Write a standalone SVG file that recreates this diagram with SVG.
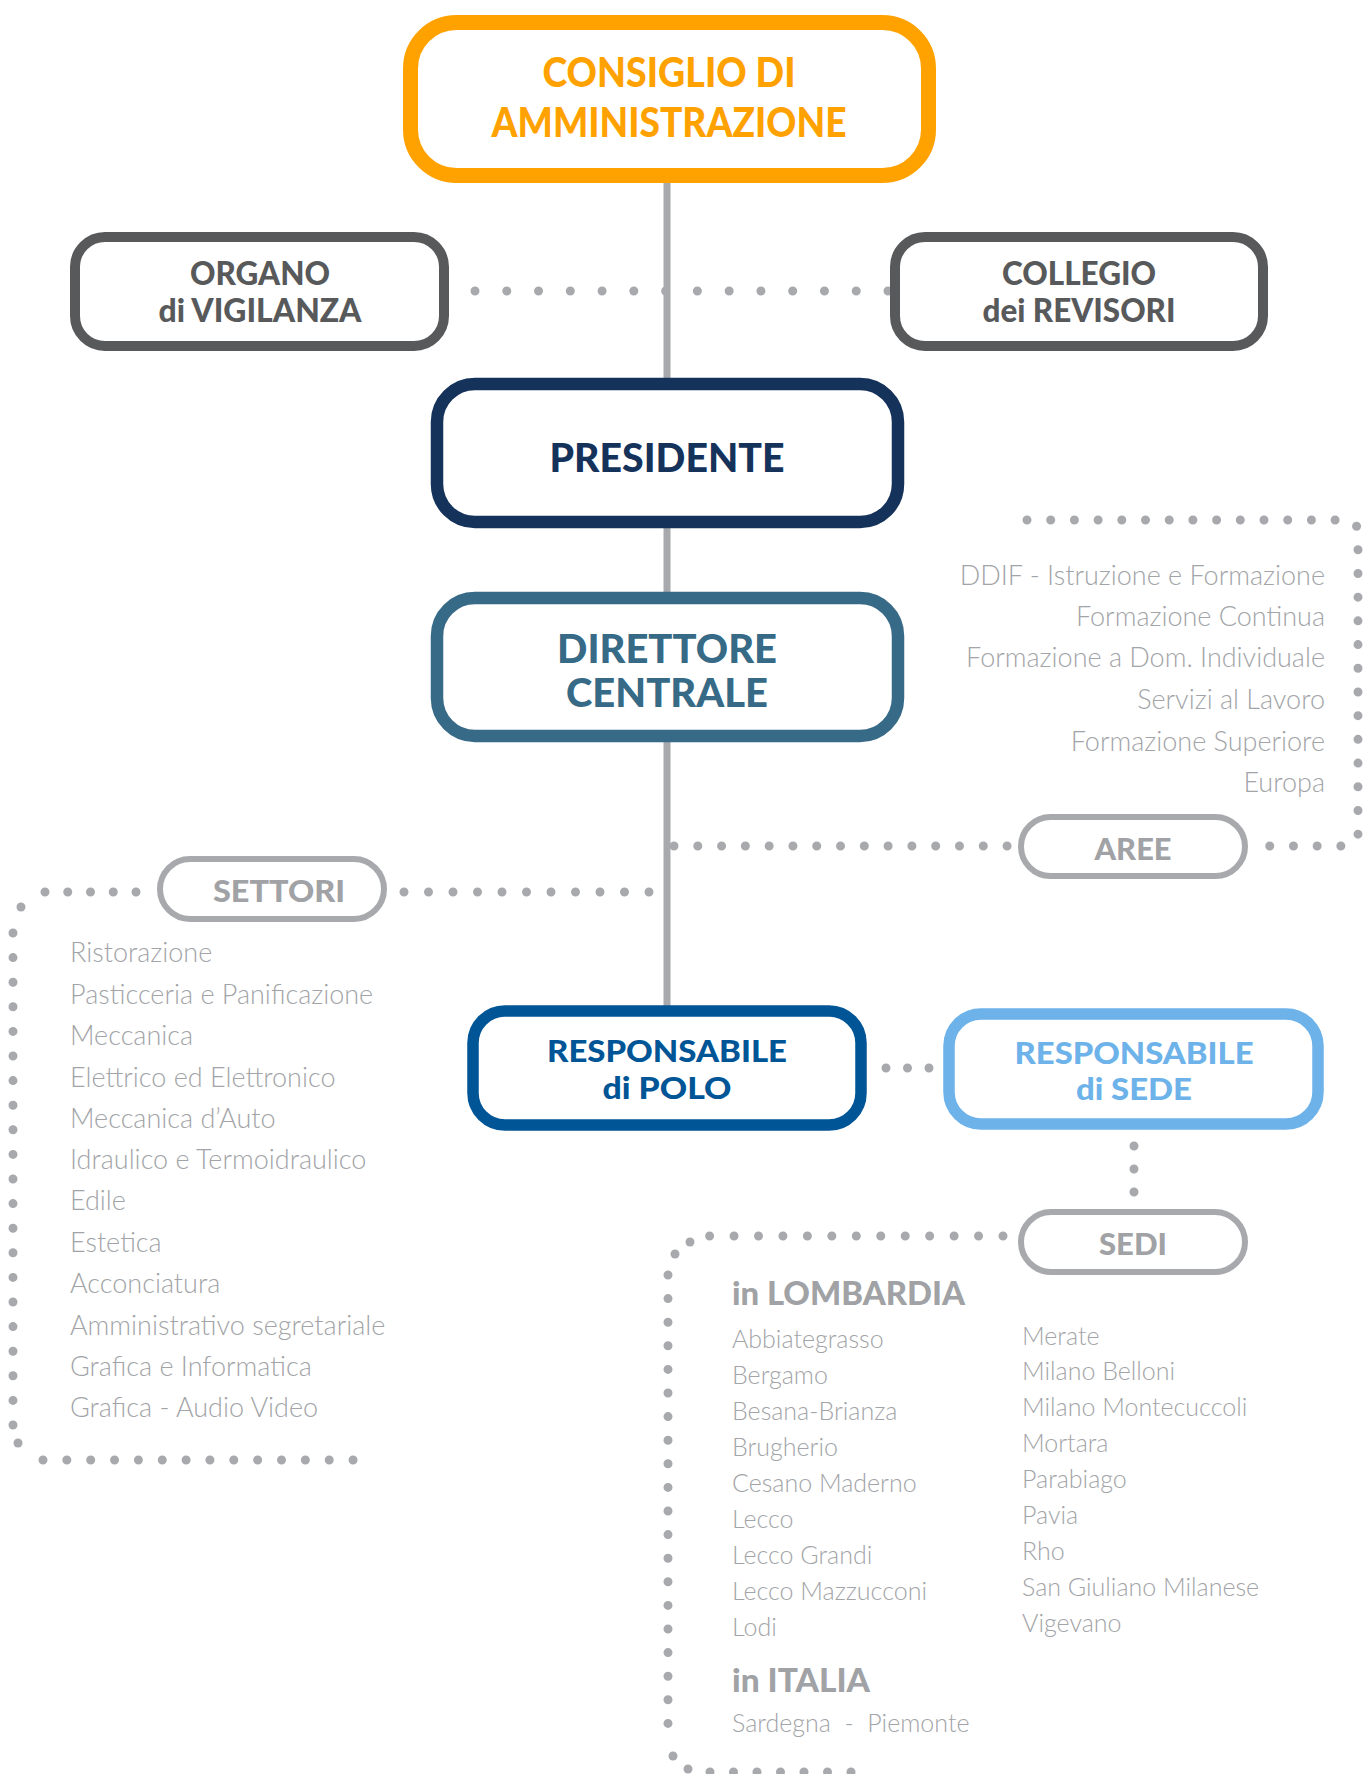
<svg xmlns="http://www.w3.org/2000/svg" width="1364" height="1774" viewBox="0 0 1364 1774">
<style>
.box{fill:#fff}
.h{font-family:Lato,"Open Sans","DejaVu Sans",sans-serif;font-weight:900;text-anchor:middle}
.pill{fill:#fff;stroke:#A7A9AC;stroke-width:6}
.pt{fill:#A0A2A5;font-size:31px}
.li{font-family:Lato,"Open Sans","DejaVu Sans",sans-serif;font-weight:300;fill:#A2A4A7}
.dot{fill:none;stroke:#A7A9AC;stroke-width:9;stroke-linecap:round}
.dc{fill:#A7A9AC}
</style>
<rect width="1364" height="1774" fill="#fff"/>
<g id="connectors">
<line x1="667" y1="180" x2="667" y2="1008" stroke="#A7A9AC" stroke-width="7"/>
<path class="dot" d="M475 291 H888.5" stroke-dasharray="0 31.77"/>
<path class="dot" d="M1027 520 H1346 A12 12 0 0 1 1358 532 V834 A12 12 0 0 1 1346 846 H1263" stroke-dasharray="0 23.7"/>
<path class="dot" d="M674 846 H1007.5" stroke-dasharray="0 23.79"/>
<path class="dot" d="M649 892 H403.5" stroke-dasharray="0 24.5"/>
<path class="dot" d="M136 892 H44.5" stroke-dasharray="0 22.75"/>
<circle class="dc" cx="21" cy="907" r="4.5"/>
<path class="dot" d="M13 933 V1425.5" stroke-dasharray="0 24.6"/>
<circle class="dc" cx="18" cy="1443" r="4.5"/>
<path class="dot" d="M43 1460 H353.5" stroke-dasharray="0 23.85"/>
<path class="dot" d="M886 1068 H930" stroke-dasharray="0 21.5"/>
<path class="dot" d="M1134 1146 V1193" stroke-dasharray="0 23"/>
<path class="dot" d="M1003 1236 H709.5" stroke-dasharray="0 24.45"/>
<circle class="dc" cx="690" cy="1242" r="4.5"/>
<circle class="dc" cx="675" cy="1254" r="4.5"/>
<path class="dot" d="M668 1275 V1737.5" stroke-dasharray="0 23.6"/>
<circle class="dc" cx="673" cy="1756" r="4.5"/>
<circle class="dc" cx="688" cy="1769" r="4.5"/>
<path class="dot" d="M710 1772 H870" stroke-dasharray="0 23.5"/>
</g>
<g id="consiglio">
<rect class="box" x="410.5" y="22.5" width="518" height="153" rx="46" stroke="#FFA200" stroke-width="15"/>
<text class="h" x="669" y="87" font-size="41" fill="#FFA200" textLength="253" lengthAdjust="spacingAndGlyphs">CONSIGLIO DI</text>
<text class="h" x="669" y="137" font-size="41" fill="#FFA200" textLength="355" lengthAdjust="spacingAndGlyphs">AMMINISTRAZIONE</text>
</g>
<g id="organo">
<rect class="box" x="75" y="237" width="369" height="109" rx="30" stroke="#58595B" stroke-width="10"/>
<text class="h" x="260" y="285" font-size="32" fill="#58595B" textLength="140" lengthAdjust="spacingAndGlyphs">ORGANO</text>
<text class="h" x="260" y="322" font-size="32" fill="#58595B" textLength="203" lengthAdjust="spacingAndGlyphs">di VIGILANZA</text>
</g>
<g id="collegio">
<rect class="box" x="895" y="237" width="368" height="109" rx="30" stroke="#58595B" stroke-width="10"/>
<text class="h" x="1079" y="285" font-size="32" fill="#58595B" textLength="154" lengthAdjust="spacingAndGlyphs">COLLEGIO</text>
<text class="h" x="1079" y="322" font-size="32" fill="#58595B" textLength="193" lengthAdjust="spacingAndGlyphs">dei REVISORI</text>
</g>
<g id="presidente">
<rect class="box" x="437" y="384" width="461" height="138" rx="38" stroke="#15325A" stroke-width="12.5"/>
<text class="h" x="667" y="472" font-size="40" fill="#15325A" textLength="235" lengthAdjust="spacingAndGlyphs">PRESIDENTE</text>
</g>
<g id="direttore">
<rect class="box" x="437" y="598" width="461" height="138" rx="38" stroke="#376A86" stroke-width="12.5"/>
<text class="h" x="667" y="663" font-size="40" fill="#376A86" textLength="220" lengthAdjust="spacingAndGlyphs">DIRETTORE</text>
<text class="h" x="667" y="707" font-size="40" fill="#376A86" textLength="202" lengthAdjust="spacingAndGlyphs">CENTRALE</text>
</g>
<g id="aree">
<rect class="pill" x="1021" y="817" width="224" height="59" rx="29.5"/>
<text class="h pt" x="1133" y="860" textLength="77" lengthAdjust="spacingAndGlyphs">AREE</text>
<g class="li" font-size="27" text-anchor="end">
<text x="1325" y="585">DDIF - Istruzione e Formazione</text>
<text x="1325" y="626">Formazione Continua</text>
<text x="1325" y="667">Formazione a Dom. Individuale</text>
<text x="1325" y="709">Servizi al Lavoro</text>
<text x="1325" y="751">Formazione Superiore</text>
<text x="1325" y="792">Europa</text>
</g>
</g>
<g id="settori">
<rect class="pill" x="160" y="859" width="224" height="60" rx="30"/>
<text class="h pt" x="279" y="902" textLength="132" lengthAdjust="spacingAndGlyphs">SETTORI</text>
<g class="li" font-size="27">
<text x="70" y="962">Ristorazione</text>
<text x="70" y="1004">Pasticceria e Panificazione</text>
<text x="70" y="1045">Meccanica</text>
<text x="70" y="1087">Elettrico ed Elettronico</text>
<text x="70" y="1128">Meccanica d’Auto</text>
<text x="70" y="1169">Idraulico e Termoidraulico</text>
<text x="70" y="1210">Edile</text>
<text x="70" y="1252">Estetica</text>
<text x="70" y="1293">Acconciatura</text>
<text x="70" y="1335">Amministrativo segretariale</text>
<text x="70" y="1376">Grafica e Informatica</text>
<text x="70" y="1417">Grafica - Audio Video</text>
</g>
</g>
<g id="polo">
<rect class="box" x="473" y="1011" width="388" height="114" rx="32" stroke="#005596" stroke-width="11.5"/>
<text class="h" x="667" y="1062" font-size="31" fill="#005596" textLength="240" lengthAdjust="spacingAndGlyphs">RESPONSABILE</text>
<text class="h" x="667" y="1099" font-size="31" fill="#005596" textLength="129" lengthAdjust="spacingAndGlyphs">di POLO</text>
</g>
<g id="sede">
<rect class="box" x="949" y="1014" width="369" height="110" rx="32" stroke="#6DB3EA" stroke-width="11.5"/>
<text class="h" x="1134" y="1064" font-size="31" fill="#6DB3EA" textLength="239" lengthAdjust="spacingAndGlyphs">RESPONSABILE</text>
<text class="h" x="1134" y="1100" font-size="31" fill="#6DB3EA" textLength="116" lengthAdjust="spacingAndGlyphs">di SEDE</text>
</g>
<g id="sedi">
<rect class="pill" x="1021" y="1212" width="224" height="60" rx="30"/>
<text class="h pt" x="1133" y="1255" textLength="68" lengthAdjust="spacingAndGlyphs">SEDI</text>
<text class="h" x="732" y="1305" font-size="32" fill="#A0A2A5" style="text-anchor:start" textLength="233" lengthAdjust="spacingAndGlyphs">in LOMBARDIA</text>
<g class="li" font-size="25">
<text x="732" y="1348">Abbiategrasso</text>
<text x="732" y="1384">Bergamo</text>
<text x="732" y="1420">Besana-Brianza</text>
<text x="732" y="1456">Brugherio</text>
<text x="732" y="1492">Cesano Maderno</text>
<text x="732" y="1528">Lecco</text>
<text x="732" y="1564">Lecco Grandi</text>
<text x="732" y="1600">Lecco Mazzucconi</text>
<text x="732" y="1636">Lodi</text>
<text x="1022" y="1345">Merate</text>
<text x="1022" y="1380">Milano Belloni</text>
<text x="1022" y="1416">Milano Montecuccoli</text>
<text x="1022" y="1452">Mortara</text>
<text x="1022" y="1488">Parabiago</text>
<text x="1022" y="1524">Pavia</text>
<text x="1022" y="1560">Rho</text>
<text x="1022" y="1596">San Giuliano Milanese</text>
<text x="1022" y="1632">Vigevano</text>
<text x="732" y="1732" xml:space="preserve">Sardegna  -  Piemonte</text>
</g>
<text class="h" x="732" y="1692" font-size="32" fill="#A0A2A5" style="text-anchor:start" textLength="138" lengthAdjust="spacingAndGlyphs">in ITALIA</text>
</g>
</svg>
